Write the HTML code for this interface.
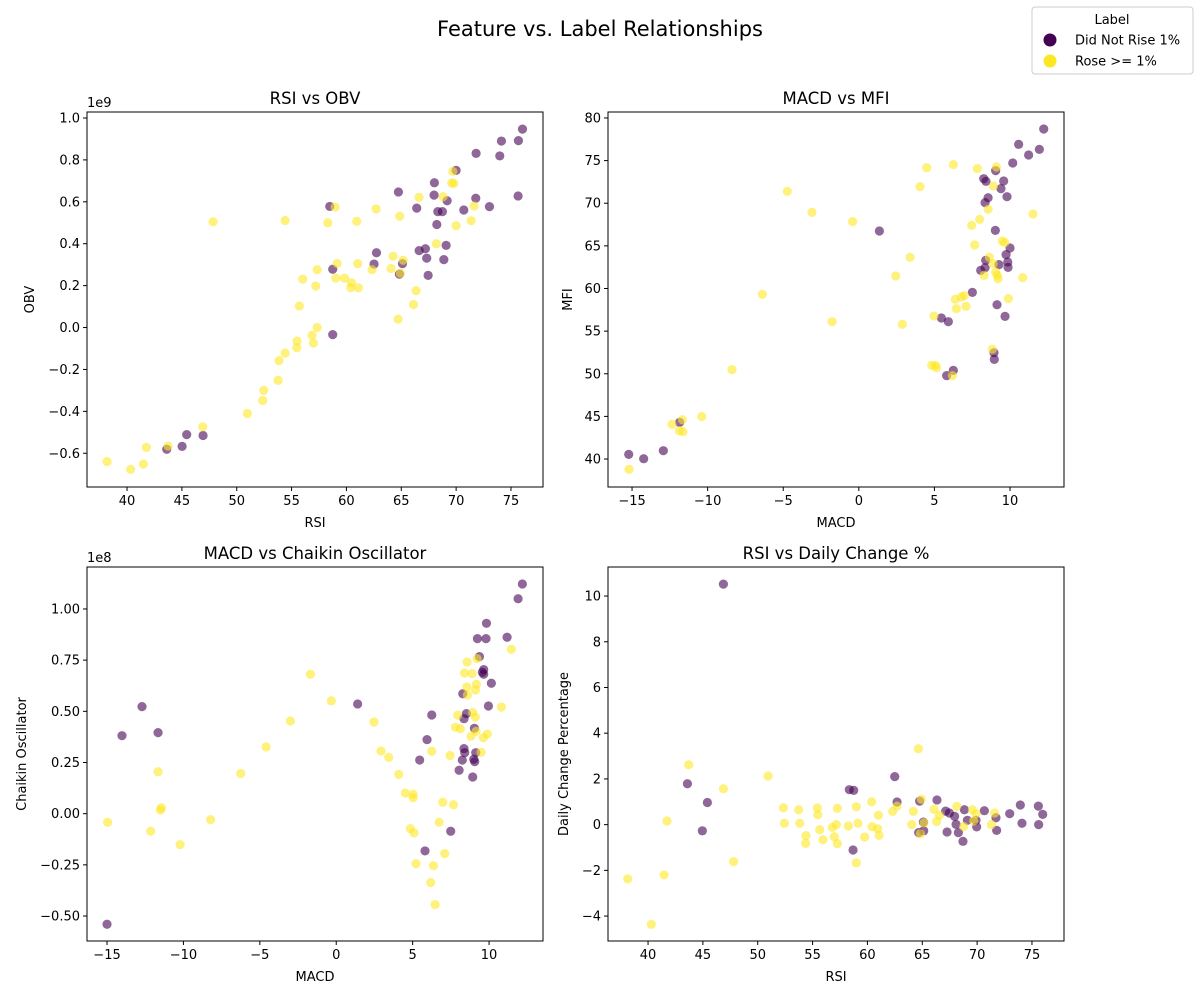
<!DOCTYPE html>
<html><head><meta charset="utf-8">
<style>
body{margin:0;background:#fff;}
svg{display:block;font-family:"DejaVu Sans","Liberation Sans",sans-serif;}
</style></head>
<body>
<svg id="fig" width="1200" height="1000" viewBox="0 0 1200 1000">
<text x="600" y="36" text-anchor="middle" font-size="21">Feature vs. Label Relationships</text>
<g>
<rect x="1032" y="7" width="161" height="67" rx="3" fill="#fff" stroke="#ccc"/>
<text x="1112" y="24" text-anchor="middle" font-size="13">Label</text>
<circle cx="1050" cy="40" r="6.5" fill="#440154"/>
<text x="1075" y="44.5" font-size="13">Did Not Rise 1%</text>
<circle cx="1050" cy="61" r="6.5" fill="#fde725"/>
<text x="1075" y="65.5" font-size="13">Rose &gt;= 1%</text>
</g>
</svg>
<script>
// ---- Panel 1: RSI vs OBV (OBV in 1e9) ----
const p1X=[76.05,74.13,75.68,71.82,73.98,70.0,68.02,64.74,67.99,69.18,71.79,75.65,58.48,66.41,68.33,68.75,70.70,73.04,68.24,67.2,66.63,69.09,67.32,68.88,62.74,62.52,65.11,64.83,58.75,67.45,58.75,45.44,46.93,45.02,43.62,
47.84,54.41,58.30,58.97,60.94,62.7,64.86,66.62,68.81,69.7,69.6,69.79,71.64,70.0,71.37,68.2,64.25,65.17,64.92,64.07,62.34,61.03,59.15,57.33,56.02,57.2,59.03,59.82,60.46,60.40,61.09,66.35,66.11,64.71,55.71,57.33,56.87,56.99,55.5,55.47,54.41,53.86,53.77,52.46,52.37,50.97,46.90,43.74,41.76,41.49,40.33,38.18];
const p1Y=[0.947,0.890,0.892,0.831,0.819,0.75,0.691,0.647,0.632,0.605,0.617,0.628,0.578,0.570,0.553,0.553,0.561,0.577,0.492,0.376,0.367,0.392,0.331,0.324,0.357,0.303,0.305,0.255,0.278,0.249,-0.034,-0.511,-0.515,-0.567,-0.581,
0.505,0.511,0.500,0.575,0.507,0.566,0.531,0.621,0.624,0.745,0.690,0.688,0.580,0.486,0.510,0.400,0.340,0.321,0.259,0.282,0.276,0.305,0.306,0.276,0.231,0.198,0.236,0.236,0.214,0.190,0.190,0.176,0.110,0.040,0.103,0.000,-0.037,-0.074,-0.064,-0.096,-0.122,-0.158,-0.252,-0.300,-0.348,-0.410,-0.474,-0.566,-0.572,-0.652,-0.677,-0.640];
const p1L=[0,0,0,0,0,0,0,0,0,0,0,0,0,0,0,0,0,0,0,0,0,0,0,0,0,0,0,0,0,0,0,0,0,0,0,
1,1,1,1,1,1,1,1,1,1,1,1,1,1,1,1,1,1,1,1,1,1,1,1,1,1,1,1,1,1,1,1,1,1,1,1,1,1,1,1,1,1,1,1,1,1,1,1,1,1,1,1];
const p1XTicks=[40,45,50,55,60,65,70,75];
const p1YTicks=[-0.6,-0.4,-0.2,0.0,0.2,0.4,0.6,0.8,1.0];

// ---- Panel 2: MACD vs MFI ----
const p2X=[12.23,10.57,11.94,11.23,10.18,9.05,8.26,8.41,9.58,9.40,8.55,8.35,9.80,1.36,9.03,10.0,9.74,9.85,9.87,9.27,8.39,8.35,8.06,7.51,9.14,9.67,5.46,5.92,8.94,8.96,6.25,5.81,-11.85,-12.93,-14.23,-15.22,
4.49,6.25,7.84,9.10,4.05,-4.73,-3.10,-0.41,8.90,8.55,7.99,7.46,11.52,7.66,9.49,9.65,3.39,8.63,8.88,9.05,9.16,9.21,8.28,10.84,2.44,-6.38,9.89,6.38,6.78,6.98,7.09,6.45,4.97,-1.77,2.88,8.83,4.82,5.13,5.06,6.19,-8.39,-10.39,-11.67,-12.35,-11.87,-11.63,-15.20];
const p2Y=[78.71,76.91,76.32,75.66,74.72,73.82,72.88,72.57,72.61,71.71,70.65,70.07,70.77,66.74,66.82,64.75,63.97,63.11,62.48,62.80,63.30,62.44,62.13,59.55,58.10,56.73,56.54,56.11,52.47,51.69,50.40,49.78,44.30,40.98,40.04,40.55,
74.17,74.53,74.06,74.25,71.95,71.40,68.93,67.84,72.02,69.29,68.11,67.41,68.74,65.10,65.57,65.38,63.66,63.66,62.91,61.94,61.54,61.15,61.54,61.27,61.47,59.32,58.81,58.73,59.0,59.16,57.91,57.64,56.77,56.11,55.80,52.87,50.99,50.71,50.99,49.78,50.48,44.97,44.61,44.07,43.32,43.21,38.79];
const p2L=[0,0,0,0,0,0,0,0,0,0,0,0,0,0,0,0,0,0,0,0,0,0,0,0,0,0,0,0,0,0,0,0,0,0,0,0,
1,1,1,1,1,1,1,1,1,1,1,1,1,1,1,1,1,1,1,1,1,1,1,1,1,1,1,1,1,1,1,1,1,1,1,1,1,1,1,1,1,1,1,1,1,1,1];
const p2XTicks=[-15,-10,-5,0,5,10];
const p2YTicks=[40,45,50,55,60,65,70,75,80];

// ---- Panel 3: MACD vs Chaikin Oscillator (1e8) ----
const p3X=[12.18,11.90,9.83,9.24,9.80,11.18,9.37,9.65,9.65,9.56,10.15,8.28,9.96,1.40,-12.71,6.25,8.52,8.36,9.04,-11.66,-14.02,5.94,8.36,8.41,9.13,8.25,9.0,9.06,5.46,8.04,8.93,7.49,5.81,-15.0,
-1.69,-0.32,-3.0,-4.59,-6.25,2.47,2.93,3.43,4.09,4.52,5.03,5.03,6.97,7.67,6.25,7.45,6.73,4.85,5.09,7.10,5.22,6.36,6.18,6.47,8.56,9.22,8.39,8.89,9.17,8.54,8.58,9.11,8.93,9.10,7.95,7.80,8.12,9.15,8.82,9.63,9.89,9.48,10.81,11.46,-11.66,-11.44,-11.51,-8.22,-12.14,-10.22,-14.96];
const p3Y=[1.122,1.050,0.930,0.855,0.855,0.862,0.767,0.704,0.681,0.691,0.637,0.586,0.526,0.536,0.523,0.482,0.489,0.464,0.417,0.396,0.381,0.362,0.318,0.298,0.298,0.262,0.266,0.254,0.262,0.212,0.179,-0.086,-0.182,-0.540,
0.681,0.551,0.453,0.326,0.196,0.448,0.306,0.275,0.192,0.101,0.095,0.078,0.056,0.044,0.305,0.284,-0.042,-0.073,-0.094,-0.195,-0.244,-0.254,-0.337,-0.444,0.741,0.757,0.687,0.684,0.632,0.619,0.580,0.604,0.494,0.472,0.481,0.422,0.415,0.402,0.378,0.371,0.389,0.300,0.521,0.803,0.205,0.029,0.018,-0.029,-0.086,-0.151,-0.042];
const p3L=[0,0,0,0,0,0,0,0,0,0,0,0,0,0,0,0,0,0,0,0,0,0,0,0,0,0,0,0,0,0,0,0,0,0,
1,1,1,1,1,1,1,1,1,1,1,1,1,1,1,1,1,1,1,1,1,1,1,1,1,1,1,1,1,1,1,1,1,1,1,1,1,1,1,1,1,1,1,1,1,1,1,1,1,1,1];
const p3XTicks=[-15,-10,-5,0,5,10];
const p3YTicks=[-0.5,-0.25,0,0.25,0.5,0.75,1.0];

// ---- Panel 4: RSI vs Daily Change % ----
const p4X=[46.87,43.59,45.41,44.95,62.49,58.35,58.75,62.70,64.76,66.34,58.69,67.13,67.47,67.95,68.84,70.66,69.11,68.08,71.72,72.97,73.94,75.58,75.98,74.09,75.61,69.96,71.78,68.29,67.26,68.71,65.10,65.13,64.67,69.90,
43.71,46.87,50.94,64.64,41.73,38.15,41.46,40.30,47.81,58.99,52.34,52.43,53.73,53.83,54.40,54.37,55.44,55.47,55.65,55.95,57.26,57.17,56.80,56.98,57.26,58.26,58.99,59.14,59.75,60.39,60.42,60.94,61.06,61.0,62.30,62.70,64.19,64.04,64.92,66.07,66.31,65.16,64.83,66.56,68.14,69.57,69.90,69.69,68.78,71.60,71.30];
const p4Y=[10.52,1.79,0.97,-0.27,2.10,1.53,1.50,0.99,1.03,1.08,-1.11,0.59,0.51,0.36,0.65,0.61,0.19,0.01,0.30,0.48,0.86,0.81,0.45,0.06,0.0,-0.10,-0.25,-0.35,-0.32,-0.73,0.11,-0.27,-0.35,0.19,
2.62,1.57,2.13,3.32,0.16,-2.37,-2.20,-4.36,-1.62,-1.67,0.74,0.06,0.65,0.06,-0.48,-0.82,0.73,0.43,-0.22,-0.66,0.71,0.0,-0.12,-0.53,-0.83,-0.06,0.78,0.06,-0.54,1.0,-0.09,-0.18,-0.47,0.41,0.58,0.81,0.58,0.0,1.11,0.67,0.14,0.08,-0.40,0.41,0.80,0.65,0.48,0.16,-0.08,0.51,0.0];
const p4L=[0,0,0,0,0,0,0,0,0,0,0,0,0,0,0,0,0,0,0,0,0,0,0,0,0,0,0,0,0,0,0,0,0,0,
1,1,1,1,1,1,1,1,1,1,1,1,1,1,1,1,1,1,1,1,1,1,1,1,1,1,1,1,1,1,1,1,1,1,1,1,1,1,1,1,1,1,1,1,1,1,1,1,1,1,1];
const p4XTicks=[40,45,50,55,60,65,70,75];
const p4YTicks=[-4,-2,0,2,4,6,8,10];

const NS="http://www.w3.org/2000/svg";
const fig=document.getElementById('fig');
function mk(tag,attrs,parent){const e=document.createElementNS(NS,tag);for(const k in attrs)e.setAttribute(k,attrs[k]);(parent||fig).appendChild(e);return e;}
function fmt(v,dec){let s=v.toFixed(dec);if(v<0&&parseFloat(s)!==0)s='\u2212'+s.slice(1);if(parseFloat(s)===0)s=(0).toFixed(dec);return s;}

function panel(o){
  const g=mk('g',{});
  
  
  const sx=v=>o.L+(v-o.xmin)/(o.xmax-o.xmin)*(o.R-o.L);
  const sy=v=>o.B-(v-o.ymin)/(o.ymax-o.ymin)*(o.B-o.T);
  const t=mk('text',{x:(o.L+o.R)/2,y:o.T-8,'text-anchor':'middle','font-size':16.5},g);
  t.textContent=o.title;
  
  
  // points
  const pts=mk('g',{},g);
  
  
  for(let i=0;i<o.xs.length;i++){
    const c=mk('circle',{cx:sx(o.xs[i]),cy:sy(o.ys[i]),r:4.6,fill:o.ls[i]?'#fde725':'#440154','fill-opacity':0.6},pts);
    
    
  }
  const fr=mk('rect',{x:o.L,y:o.T,width:o.R-o.L,height:o.B-o.T,fill:'none',stroke:'#000','stroke-width':1},g);
  
  
  o.xt.forEach(v=>{
    const x=sx(v);
    mk('line',{x1:x,x2:x,y1:o.B,y2:o.B+4,stroke:'#000'},g);
    const tx=mk('text',{x:x,y:o.B+18,'text-anchor':'middle','font-size':13},g);
    tx.textContent=fmt(v,o.xd);
    
    
  });
  o.yt.forEach(v=>{
    const y=sy(v);
    mk('line',{x1:o.L-4,x2:o.L,y1:y,y2:y,stroke:'#000'},g);
    const ty=mk('text',{x:o.L-7,y:y+4.5,'text-anchor':'end','font-size':13},g);
    ty.textContent=fmt(v,o.yd);
    
    
  });
  const xl=mk('text',{x:(o.L+o.R)/2,y:o.B+40,'text-anchor':'middle','font-size':13},g);
  xl.textContent=o.xlab;
  
  
  const yx=o.ylx, yy=(o.T+o.B)/2;
  const yl=mk('text',{x:yx,y:yy,'text-anchor':'middle','font-size':13,transform:`rotate(-90 ${yx} ${yy})`},g);
  yl.textContent=o.ylab;
  
  
  if(o.off){
    const of=mk('text',{x:o.L,y:o.T-5,'font-size':13},g);
    of.textContent=o.off;
    
    
  }
}
panel({name:'rsi-vs-obv',title:'RSI vs OBV',L:87,R:543,T:112,B:487,xmin:36.35,xmax:77.92,ymin:-0.761,ymax:1.0286,xs:p1X,ys:p1Y,ls:p1L,xt:p1XTicks,yt:p1YTicks,xd:0,yd:1,xlab:'RSI',ylab:'OBV',ylx:34,off:'1e9'});
panel({name:'macd-vs-mfi',title:'MACD vs MFI',L:608,R:1064,T:112,B:487,xmin:-16.59,xmax:13.57,ymin:36.72,ymax:80.70,xs:p2X,ys:p2Y,ls:p2L,xt:p2XTicks,yt:p2YTicks,xd:0,yd:0,xlab:'MACD',ylab:'MFI',ylx:572});
panel({name:'macd-vs-chaikin',title:'MACD vs Chaikin Oscillator',L:87,R:543,T:567,B:941,xmin:-16.31,xmax:13.53,ymin:-0.622,ymax:1.205,xs:p3X,ys:p3Y,ls:p3L,xt:p3XTicks,yt:p3YTicks,xd:0,yd:2,xlab:'MACD',ylab:'Chaikin Oscillator',ylx:26,off:'1e8'});
panel({name:'rsi-vs-daily-change',title:'RSI vs Daily Change %',L:608,R:1064,T:567,B:941,xmin:36.35,xmax:77.92,ymin:-5.09,ymax:11.27,xs:p4X,ys:p4Y,ls:p4L,xt:p4XTicks,yt:p4YTicks,xd:0,yd:0,xlab:'RSI',ylab:'Daily Change Percentage',ylx:568});
</script>
</body></html>
